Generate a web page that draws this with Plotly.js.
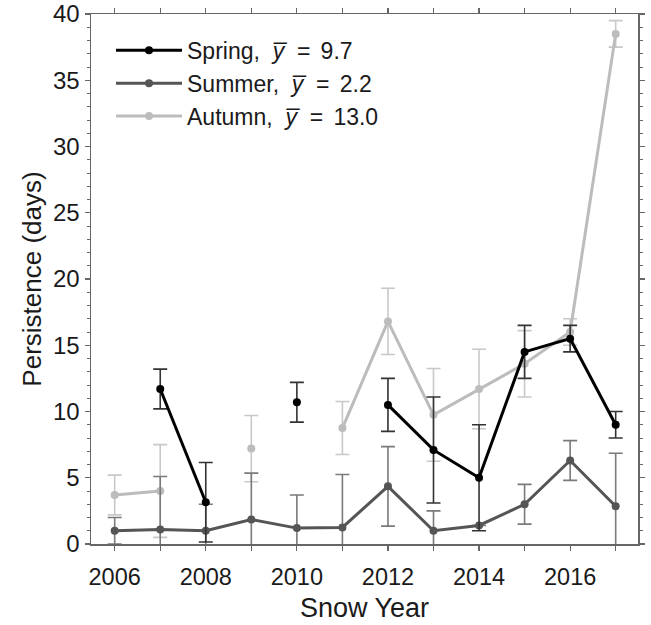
<!DOCTYPE html>
<html>
<head>
<meta charset="utf-8">
<script src="https://cdn.plot.ly/plotly-3.0.1.min.js"></script>
<style>html,body{margin:0;padding:0;background:#fff;}</style>
</head>
<body>
<div id="chart" style="width:651px;height:625px;"></div>
<script>
const years = [2006, 2007, 2008, 2009, 2010, 2011, 2012, 2013, 2014, 2015, 2016, 2017];
const springValues = [null, 11.7, 3.15, null, 10.7, null, 10.5, 7.1, 5.0, 14.5, 15.5, 9.0];
const springErrors = [null, 1.5, 3.0, null, 1.5, null, 2.0, 4.0, 4.0, 2.0, 1.0, 1.0];
const summerValues = [1.0, 1.1, 1.0, 1.85, 1.2, 1.25, 4.35, 1.0, 1.4, 3.0, 6.3, 2.85];
const summerErrors = [1.0, 4.0, 2.0, 3.5, 2.5, 4.0, 3.0, 1.5, null, 1.5, 1.5, 4.0];
const autumnValues = [3.7, 4.0, null, 7.2, null, 8.75, 16.8, 9.75, 11.7, 13.6, 16.0, 38.5];
const autumnErrors = [1.5, 3.5, null, 2.5, null, 2.0, 2.5, 3.5, 3.0, 2.5, 1.0, 1.0];
const seriesNames = ['Spring', 'Summer', 'Autumn'];
const seriesMeans = ['9.7', '2.2', '13.0'];
const xTickLabels = ['2006', '', '2008', '', '2010', '', '2012', '', '2014', '', '2016', ''];

const NB = '\u00a0';
function legendLabel(i) {
  return seriesNames[i] + ',' + NB + NB + '<i>y\u0305</i>' + NB + NB + '=' + NB + '\u2006' + seriesMeans[i];
}

function mkTrace(i, vals, errs, color, errColor) {
  return {
    x: years, y: vals, type: 'scatter', mode: 'lines+markers',
    name: legendLabel(i),
    line: {color: color, width: 3},
    marker: {color: color, size: 8},
    error_y: {type: 'data', array: errs, visible: true, color: errColor, thickness: 1.6, width: 7},
    connectgaps: false
  };
}

const traces = [
  mkTrace(2, autumnValues, autumnErrors, '#bcbcbc', '#c8c8c8'),
  mkTrace(1, summerValues, summerErrors, '#555555', '#7a7a7a'),
  mkTrace(0, springValues, springErrors, '#000000', '#333333')
];

const axisColor = '#666666';
const layout = {
  width: 651, height: 625,
  margin: {l: 91, r: 13, t: 14, b: 81},
  paper_bgcolor: '#ffffff', plot_bgcolor: '#ffffff',
  font: {family: 'Liberation Sans, Arial, sans-serif', size: 23, color: '#1a1a1a'},
  showlegend: true,
  legend: {
    x: 0.0366, y: 0.972, xanchor: 'left', yanchor: 'top',
    traceorder: 'reversed', bgcolor: 'rgba(0,0,0,0)',
    font: {size: 23, color: '#1a1a1a'}, itemwidth: 66, tracegroupgap: 0
  },
  xaxis: {
    range: [2005.48, 2017.49],
    tickmode: 'array', tickvals: years, ticktext: xTickLabels,
    ticks: 'outside', ticklen: 5, tickwidth: 1.2, tickcolor: axisColor,
    tickfont: {size: 23.5},
    showline: true, linecolor: axisColor, linewidth: 1.5, mirror: 'ticks',
    showgrid: false, zeroline: false, ticklabelstandoff: 6,
    title: {text: 'Snow Year', font: {size: 27}, standoff: 9}
  },
  yaxis: {
    range: [0, 40], tickmode: 'linear', tick0: 0, dtick: 5,
    ticks: 'outside', ticklen: 5, tickwidth: 1.2, tickcolor: axisColor,
    tickfont: {size: 24},
    minor: {dtick: 1, ticks: 'outside', ticklen: 3, tickcolor: axisColor, tickwidth: 1},
    showline: true, linecolor: axisColor, linewidth: 1.5, mirror: 'ticks',
    showgrid: false, zeroline: false, ticklabelstandoff: 0,
    title: {text: 'Persistence (days)', font: {size: 26}, standoff: 4}
  }
};

Plotly.newPlot('chart', traces, layout, {displayModeBar: false, staticPlot: true});
</script>
</body>
</html>
